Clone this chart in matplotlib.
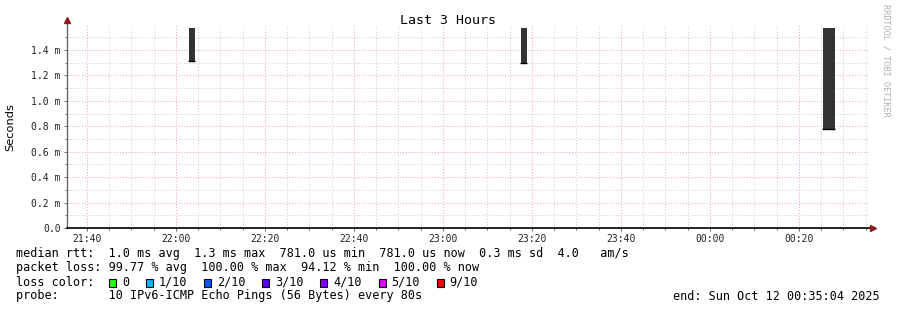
import matplotlib
matplotlib.use("Agg")
import matplotlib.pyplot as plt
import matplotlib.dates as mdates
from matplotlib.patches import Rectangle
from datetime import datetime, timedelta

# time window of the graph
t_start = datetime(2025, 10, 11, 21, 35, 31)
t_end = datetime(2025, 10, 12, 0, 35, 31)

# smoke bars (rtt spread) in ms
smoke_time = ["2025-10-11 22:02:56", "2025-10-11 23:17:28", "2025-10-12 00:25:28"]
smoke_dur = [80, 80, 160]          # seconds
smoke_lo = [1.31, 1.295, 0.781]
smoke_hi = [1.575, 1.575, 1.575]

y_top = 1.589

rtt_line = "median rtt:  1.0 ms avg  1.3 ms max  781.0 us min  781.0 us now  0.3 ms sd  4.0   am/s"
loss_line = "packet loss: 99.77 % avg  100.00 % max  94.12 % min  100.00 % now"
probe_line = "probe:       10 IPv6-ICMP Echo Pings (56 Bytes) every 80s"
end_line = "end: Sun Oct 12 00:35:04 2025"
loss_labels = ["0", "1/10", "2/10", "3/10", "4/10", "5/10", "9/10"]
loss_colors = ["#26ff00", "#00b8ff", "#0059ff", "#5e00ff", "#7e00ff", "#dd00ff", "#ff0000"]

W, H = 897, 310
mono = "DejaVu Sans Mono"

fig = plt.figure(figsize=(W / 100, H / 100), dpi=100)
ax = fig.add_axes([67 / W, 82 / H, 801 / W, 202 / H])

x0 = mdates.date2num(t_start)
x1 = mdates.date2num(t_end)
for ts, d, lo, hi in zip(smoke_time, smoke_dur, smoke_lo, smoke_hi):
    t = mdates.date2num(datetime.strptime(ts, "%Y-%m-%d %H:%M:%S"))
    w = d / 86400.0
    ax.bar(t, hi - lo, bottom=lo, width=w, align="edge", color="#333333", lw=0, zorder=3)
    ax.hlines(lo, t - 12 / 86400.0, t + w, color="black", lw=1.0, zorder=4)

ax.set_xlim(x0, x1)
ax.set_ylim(0, y_top)

ax.xaxis.set_major_locator(mdates.MinuteLocator(byminute=[0, 20, 40]))
ax.xaxis.set_minor_locator(mdates.MinuteLocator(byminute=range(0, 60, 5)))
ax.xaxis.set_major_formatter(mdates.DateFormatter("%H:%M"))
ax.set_yticks([i * 0.2 for i in range(8)])
ax.set_yticks([i * 0.1 for i in range(16)], minor=True)
ax.set_yticklabels(["0.0"] + ["%.1f m" % (i * 0.2) for i in range(1, 8)])

ax.grid(which="minor", color="#c8c8c8", linestyle=(0, (1, 2)), lw=0.7)
ax.grid(which="major", color="#f0a0a0", linestyle=(0, (1, 2)), lw=0.7)
ax.set_axisbelow(True)

ax.tick_params(which="both", direction="out", width=0.6, colors="#555555",
               labelcolor="#222222", labelsize=7)
ax.tick_params(which="major", length=2.5, pad=2)
ax.tick_params(which="minor", length=1.5)
for lbl in ax.get_xticklabels() + ax.get_yticklabels():
    lbl.set_family(mono)

for s in ax.spines.values():
    s.set_visible(False)
ax.plot([0, 0], [0, 1.02], transform=ax.transAxes, color="#666666", lw=1, clip_on=False, zorder=5)
ax.plot([0, 1.004], [0, 0], transform=ax.transAxes, color="black", lw=1.2, clip_on=False, zorder=5)
ax.plot(0, 1.03, marker="^", ms=4, color="#8b1a1a", transform=ax.transAxes, clip_on=False, zorder=6)
ax.plot(1.006, 0, marker=">", ms=4, color="#8b1a1a", transform=ax.transAxes, clip_on=False, zorder=6)

fig.text(447.5 / W, 1 - 20 / H, "Last 3 Hours", family=mono, fontsize=9.5, ha="center", va="center")
fig.text(10 / W, 1 - 127 / H, "Seconds", fontsize=8.2, rotation=90, ha="center", va="center")
fig.text(886 / W, 1 - 60 / H, "RRDTOOL / TOBI OETIKER", family=mono, fontsize=6.1,
         color="#b0b0b0", rotation=270, ha="center", va="center")

fs = 8.5
cw = 7.09
fig.text(16 / W, 1 - 254 / H, rtt_line, family=mono, fontsize=fs, va="center")
fig.text(16 / W, 1 - 268 / H, loss_line, family=mono, fontsize=fs, va="center")
fig.text(16 / W, 1 - 282 / H, "loss color:", family=mono, fontsize=fs, va="center")
fig.text(16 / W, 1 - 296 / H, probe_line, family=mono, fontsize=fs, va="center")
fig.text(880 / W, 1 - 296 / H, end_line, family=mono, fontsize=fs, va="center", ha="right")

bx = 109
for lab, col in zip(loss_labels, loss_colors):
    fig.patches.append(Rectangle((bx / W, 1 - 286.5 / H), 7 / W, 8 / H, transform=fig.transFigure,
                                 facecolor=col, edgecolor="black", lw=0.8))
    fig.text((bx + 13) / W, 1 - 282 / H, lab, family=mono, fontsize=fs, va="center")
    bx += 14 + len(lab) * cw + 15.8

fig.savefig("out.png", dpi=100)
